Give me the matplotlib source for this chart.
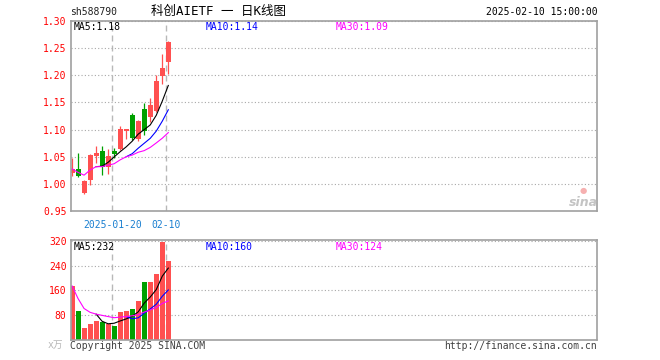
import matplotlib
matplotlib.use('Agg')
import matplotlib.pyplot as plt
import pandas as pd

# daily bars, 2025-01-09 .. 2025-02-10
dates = ['2025-01-09', '2025-01-10', '2025-01-13', '2025-01-14', '2025-01-15',
         '2025-01-16', '2025-01-17', '2025-01-20', '2025-01-21', '2025-01-22',
         '2025-01-23', '2025-01-24', '2025-01-27', '2025-02-05', '2025-02-06',
         '2025-02-07', '2025-02-10']
open_ = [1.020, 1.028, 0.984, 1.007, 1.052, 1.061, 1.032, 1.061, 1.065, 1.097,
         1.127, 1.083, 1.138, 1.123, 1.134, 1.199, 1.224]
close = [1.028, 1.015, 1.006, 1.054, 1.057, 1.032, 1.051, 1.0555, 1.1015, 1.1015,
         1.084, 1.116, 1.097, 1.1445, 1.190, 1.214, 1.260]
high = [1.048, 1.057, 1.007, 1.056, 1.069, 1.070, 1.064, 1.066, 1.107, 1.1015,
        1.131, 1.118, 1.148, 1.158, 1.200, 1.239, 1.262]
low = [1.015, 1.013, 0.982, 0.998, 1.038, 1.017, 1.019, 1.048, 1.063, 1.083,
       1.081, 1.080, 1.090, 1.114, 1.133, 1.184, 1.203]
volume = [174, 92, 36, 51, 59, 58, 51, 45, 88, 92, 100, 124, 187, 187, 212, 318, 255]

price_ticks = [0.95, 1.00, 1.05, 1.10, 1.15, 1.20, 1.25, 1.30]
vol_ticks = [80, 160, 240, 320]
date_marks = {'2025-01-20': '2025-01-20', '2025-02-10': '02-10'}

UP, DOWN = '#ff5050', '#00a000'
GRID = '#a8a8a8'
MONO = 'DejaVu Sans Mono'

x = list(range(len(dates)))
cs = pd.Series(close)
vs = pd.Series(volume, dtype=float)
colors = [UP if c >= o else DOWN for o, c in zip(open_, close)]

W, H = 660, 360
fig = plt.figure(figsize=(6.6, 3.6), dpi=100)


def px_axes(left, top, right, bottom):
    return fig.add_axes([left / W, 1 - bottom / H, (right - left) / W, (bottom - top) / H])


ax = px_axes(70.7, 20.7, 597.3, 211.3)
axv = px_axes(70.7, 240, 597.3, 339.5)

mark_pos = [dates.index(d) - 0.3 for d in date_marks]

for a in (ax, axv):
    a.set_xlim(-0.22, 87.3)
    for s in a.spines.values():
        s.set_color('#a0a0a0')
        s.set_linewidth(1.2)
    a.set_xticks(mark_pos)
    a.grid(axis='x', color='#b8b8b8', linestyle=(0, (4.3, 2.9)), linewidth=1.0)
    a.grid(axis='y', color=GRID, linestyle=(0, (1, 2)), linewidth=0.8)
    a.set_axisbelow(True)
    a.tick_params(length=0, labelsize=7, pad=3)
    for lab in a.get_yticklabels():
        lab.set_family(MONO)

# candles
bodies = [abs(c - o) if abs(c - o) > 0.001 else 0.001 for o, c in zip(open_, close)]
ax.vlines(x, low, high, colors=colors, linewidth=0.9)
ax.bar(x, bodies, bottom=[min(o, c) for o, c in zip(open_, close)], width=0.83,
       color=colors, linewidth=0)
ax.plot(x, cs.rolling(5).mean(), color='black', lw=0.8)
ax.plot(x, cs.rolling(10).mean(), color='#0000ff', lw=0.8)
ax.plot(x, cs.rolling(30, min_periods=1).mean(), color='#ff00ff', lw=0.8)
ax.set_ylim(0.95, 1.30)
ax.set_yticks(price_ticks)
ax.set_yticklabels([f'{t:.2f}' for t in price_ticks], color='red', family=MONO, fontsize=7)
ax.set_xticklabels(list(date_marks.values()), color='#1a7fd0', family=MONO, fontsize=7)
ax.tick_params(axis='x', pad=6)

# volume
axv.bar(x, volume, width=0.83, color=colors, linewidth=0)
axv.plot(x, vs.rolling(5).mean(), color='black', lw=0.8)
axv.plot(x, vs.rolling(10).mean(), color='#0000ff', lw=0.8)
axv.plot(x, vs.rolling(30, min_periods=1).mean(), color='#ff00ff', lw=0.8)
axv.set_ylim(0, 323)
axv.set_yticks(vol_ticks)
axv.set_yticklabels([str(t) for t in vol_ticks], color='red', family=MONO, fontsize=7)
axv.set_xticklabels([])


def ptext(px, py, s, **kw):
    kw.setdefault('family', MONO)
    kw.setdefault('fontsize', 7)
    fig.text(px / W, 1 - py / H, s, va='center', **kw)


ptext(70, 12, 'sh588790', color='#202020')
ptext(151, 11.5, '科创AIETF 一 日K线图', color='black', fontsize=9,
      family=[MONO, 'Noto Sans CJK SC'])
ptext(598, 12, '2025-02-10 15:00:00', color='black', ha='right')

ptext(74, 26.5, 'MA5:1.18', color='black')
ptext(206, 26.5, 'MA10:1.14', color='#0000ff')
ptext(336, 26.5, 'MA30:1.09', color='#ff00ff')

ptext(74, 246.5, 'MA5:232', color='black')
ptext(206, 246.5, 'MA10:160', color='#0000ff')
ptext(336, 246.5, 'MA30:124', color='#ff00ff')

ptext(70, 346, 'Copyright 2025 SINA.COM', color='#404040')
ptext(597, 346, 'http://finance.sina.com.cn', color='#404040', ha='right')
ptext(63, 345, 'x万', color='#b8b8b8', ha='right', family=[MONO, 'Noto Sans CJK SC'])

# faint sina watermark
ptext(583, 202, 'sina', color='#c4c4c4', ha='center', fontsize=9,
      fontweight='bold', style='italic', family='DejaVu Sans')
ptext(583, 190, '●', color='#f6b0b0', ha='center', fontsize=6, family='DejaVu Sans')

fig.savefig('out.png', dpi=100)
